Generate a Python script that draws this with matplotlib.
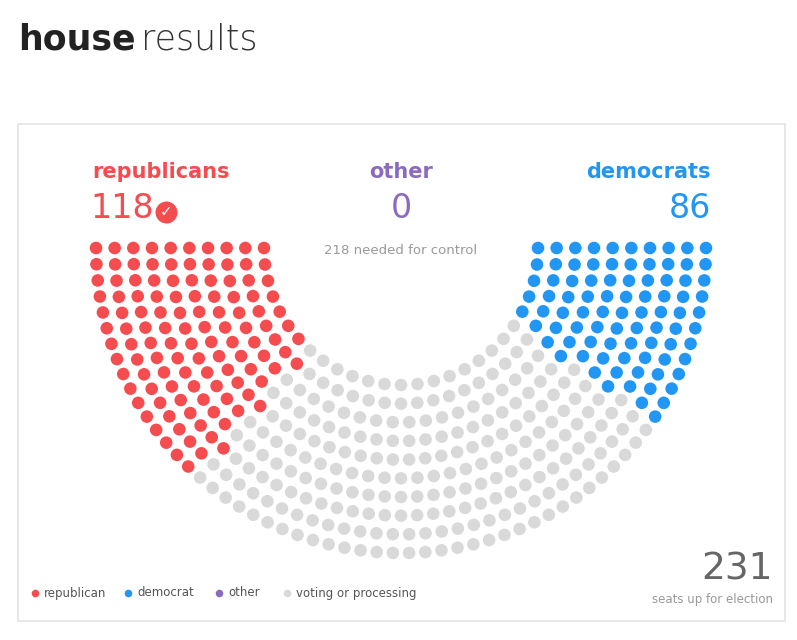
import numpy as np
import matplotlib.pyplot as plt

# seat counts
parties = ["republican", "democrat", "other", "voting or processing"]
seats = [118, 86, 0, 231]
colors = ["#f44c4f", "#2196f3", "#8b6bbd", "#d9d9d9"]
total_seats = 435
n_rings = 10

fig = plt.figure(figsize=(7.97, 6.4), dpi=100)
ax = fig.add_axes([0, 0, 1, 1])
ax.set_xlim(0, 797)
ax.set_ylim(640, 0)
ax.axis("off")

# panel box
ax.add_patch(plt.Rectangle((18, 124), 767, 497, fill=False, ec="#e3e3e3", lw=1.2))

# hemicycle (opens upward, seats hang below the centre)
cx, cy = 401, 248
radii = np.linspace(137, 305, n_rings)
per_ring = np.round(total_seats * radii / radii.sum()).astype(int)
per_ring[-1] += total_seats - per_ring.sum()

pts = []
for r, n in zip(radii, per_ring):
    for t in np.linspace(0, np.pi, n):
        pts.append((t, r, cx - r * np.cos(t), cy + r * np.sin(t)))
pts.sort(key=lambda p: (round(p[0], 6), -p[1]))

# republicans from the left, democrats from the right, rest grey
seat_cols = [colors[3]] * total_seats
for i in range(seats[0]):
    seat_cols[i] = colors[0]
for i in range(seats[1]):
    seat_cols[total_seats - 1 - i] = colors[1]
xs = [p[2] for p in pts]
ys = [p[3] for p in pts]
ax.scatter(xs, ys, s=82, c=seat_cols, linewidths=0)

# title
ax.text(18, 40, "house", fontsize=25, fontweight="bold", color="#222222", va="center")
ax.text(141, 40, "results", fontsize=25, fontweight="light", color="#333333", va="center")

# headline numbers
ax.text(92, 172, "republicans", fontsize=15, fontweight="bold", color=colors[0], va="center")
ax.text(90, 209, str(seats[0]), fontsize=24, color=colors[0], va="center")
ax.scatter([166], [212], s=250, c=colors[0], linewidths=0)
ax.text(166, 212, "\u2713", fontsize=11, color="white", ha="center", va="center", fontweight="bold")
ax.text(401, 172, "other", fontsize=15, fontweight="bold", color=colors[2], ha="center", va="center")
ax.text(401, 209, str(seats[2]), fontsize=24, color=colors[2], ha="center", va="center")
ax.text(711, 172, "democrats", fontsize=15, fontweight="bold", color=colors[1], ha="right", va="center")
ax.text(711, 209, str(seats[1]), fontsize=24, color=colors[1], ha="right", va="center")
ax.text(401, 250, "218 needed for control", fontsize=9.5, color="#999999", ha="center", va="center")

# legend
lx = [35, 128, 219, 287]
for x, name, col in zip(lx, parties, colors):
    ax.scatter([x], [593], s=30, c=col, linewidths=0)
    ax.text(x + 9, 593, name, fontsize=8.5, color="#555555", va="center")

ax.text(773, 569, str(seats[3]), fontsize=27, color="#666666", ha="right", va="center")
ax.text(773, 599, "seats up for election", fontsize=8.5, color="#999999", ha="right", va="center")

fig.savefig("out.png", dpi=100)
